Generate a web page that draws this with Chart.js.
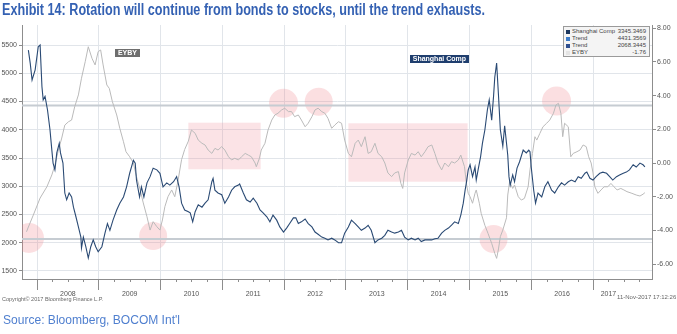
<!DOCTYPE html>
<html>
<head>
<meta charset="utf-8">
<script src="https://cdn.jsdelivr.net/npm/chart.js@4.4.1/dist/chart.umd.min.js"></script>
<style>
    html, body { margin: 0; padding: 0; background: #fff; }
    #wrap { position: relative; width: 677px; height: 334px; overflow: hidden; }
    #chart { position: absolute; left: 0; top: 0; }
    .title {
        position: absolute; left: 2px; top: 1px; line-height: 16px;
        font: bold 16px 'Liberation Sans', Arial, sans-serif; color: #3461b3;
        white-space: nowrap; transform-origin: 0 0;
    }
    .source {
        position: absolute; left: 3px; top: 313px; line-height: 13px;
        font: 12.5px 'Liberation Sans', Arial, sans-serif; color: #4f7fcf;
        white-space: nowrap; transform-origin: 0 0;
    }
    .copy, .stamp {
        position: absolute; white-space: nowrap; color: #666;
        font-family: 'Liberation Sans Narrow', 'Liberation Sans', sans-serif;
    }
    .copy { left: 2px; top: 296px; font-size: 5.5px; }
    .stamp { left: 617px; top: 294px; font-size: 6px; }
    .legend {
        position: absolute; left: 563px; top: 26px; width: 87px; height: 31px;
        box-sizing: border-box; border: 1px solid #9a9a9a; background: #f4f4f4;
        padding: 1px 3px 0 2px; color: #444; white-space: nowrap;
        font: 6px 'Liberation Sans Narrow', 'Liberation Sans', sans-serif;
    }
    .legend .row { display: flex; align-items: center; height: 7.1px; line-height: 7px; white-space: nowrap; }
    .legend i { display: inline-block; flex: none; width: 4px; height: 4px; margin-right: 2px; }
    .legend .val { margin-left: auto; padding-left: 2px; }
</style>
</head>
<body>
<div id="wrap">
    <canvas id="chart" width="677" height="334"></canvas>
    <div class="title" id="title">Exhibit 14: Rotation will continue from bonds to stocks, until the trend exhausts.</div>
    <div class="legend">
        <div class="row"><i style="background:#1b365d"></i><span>Shanghai Comp</span><span class="val">3345.3469</span></div>
        <div class="row"><i style="background:#3d7cc9"></i><span>Trend</span><span class="val">4431.3569</span></div>
        <div class="row"><i style="background:#2f4f8f"></i><span>Trend</span><span class="val">2068.3445</span></div>
        <div class="row"><i style="background:#e4e4e4"></i><span>EYBY</span><span class="val">-1.76</span></div>
    </div>
    <div class="copy">Copyright© 2017 Bloomberg Finance L.P.</div>
    <div class="stamp">11-Nov-2017 17:12:26</div>
    <div class="source" id="source">Source: Bloomberg, BOCOM Int'l</div>
</div>
<script>
// Shanghai Composite, left axis (decimal year, index level)
const shDates = [
    2007.86, 2007.89, 2007.92, 2007.97, 2008.02, 2008.05, 2008.08, 2008.10, 2008.13, 2008.17,
    2008.21, 2008.24, 2008.26, 2008.29, 2008.32, 2008.36, 2008.38, 2008.42, 2008.45, 2008.48,
    2008.52, 2008.56, 2008.59, 2008.63, 2008.67, 2008.71, 2008.72, 2008.75, 2008.79, 2008.83,
    2008.87, 2008.91, 2008.95, 2008.99, 2009.05, 2009.10, 2009.14, 2009.18, 2009.23, 2009.29,
    2009.34, 2009.40, 2009.45, 2009.50, 2009.56, 2009.59, 2009.61, 2009.66, 2009.69, 2009.73,
    2009.78, 2009.83, 2009.88, 2009.94, 2009.99, 2010.04, 2010.10, 2010.15, 2010.21, 2010.26,
    2010.30, 2010.34, 2010.39, 2010.45, 2010.48, 2010.52, 2010.56, 2010.61, 2010.67, 2010.72,
    2010.77, 2010.83, 2010.85, 2010.88, 2010.93, 2010.99, 2011.04, 2011.10, 2011.15, 2011.20,
    2011.26, 2011.28, 2011.34, 2011.39, 2011.45, 2011.50, 2011.56, 2011.61, 2011.66, 2011.72,
    2011.77, 2011.82, 2011.88, 2011.93, 2011.99, 2012.04, 2012.09, 2012.15, 2012.19, 2012.23,
    2012.28, 2012.34, 2012.39, 2012.45, 2012.50, 2012.55, 2012.61, 2012.66, 2012.71, 2012.77,
    2012.82, 2012.88, 2012.93, 2012.98, 2013.04, 2013.09, 2013.15, 2013.20, 2013.25, 2013.31,
    2013.36, 2013.41, 2013.47, 2013.52, 2013.58, 2013.63, 2013.68, 2013.74, 2013.79, 2013.85,
    2013.90, 2013.95, 2014.01, 2014.06, 2014.12, 2014.17, 2014.22, 2014.28, 2014.33, 2014.39,
    2014.44, 2014.49, 2014.55, 2014.60, 2014.66, 2014.71, 2014.76, 2014.82, 2014.86, 2014.90,
    2014.93, 2014.95, 2014.98, 2015.01, 2015.05, 2015.09, 2015.11, 2015.14, 2015.18, 2015.21,
    2015.25, 2015.29, 2015.32, 2015.36, 2015.39, 2015.41, 2015.44, 2015.47, 2015.50, 2015.54,
    2015.57, 2015.60, 2015.62, 2015.64, 2015.66, 2015.70, 2015.73, 2015.77, 2015.81, 2015.87,
    2015.92, 2015.96, 2015.98, 2016.00, 2016.04, 2016.07, 2016.11, 2016.17, 2016.22, 2016.27,
    2016.33, 2016.38, 2016.44, 2016.49, 2016.54, 2016.60, 2016.65, 2016.71, 2016.76, 2016.81,
    2016.87, 2016.90, 2016.95, 2017.00, 2017.05, 2017.11, 2017.16, 2017.22, 2017.27, 2017.32,
    2017.38, 2017.43, 2017.49, 2017.54, 2017.59, 2017.65, 2017.70, 2017.76, 2017.81, 2017.84,
];
const shValues = [
    5410, 5180, 4880, 5060, 5470, 5500, 4760, 4530, 4590, 4350,
    4000, 3640, 3410, 3290, 3590, 3760, 3590, 3410, 2880, 2760,
    2880, 2810, 2630, 2460, 2280, 2100, 1910, 2100, 1930, 1730,
    1930, 2050, 1930, 1840, 1930, 2170, 2340, 2220, 2400, 2580,
    2700, 2810, 2990, 3230, 3460, 3410, 3110, 2810, 2990, 2810,
    3060, 3170, 3320, 3290, 3230, 2990, 3060, 3020, 3080, 3170,
    2990, 2700, 2580, 2550, 2530, 2370, 2550, 2670, 2630, 2700,
    2760, 3080, 3140, 2930, 2880, 2850, 2700, 2810, 2930, 2990,
    3020, 3040, 2880, 2760, 2720, 2790, 2700, 2580, 2530, 2460,
    2370, 2490, 2400, 2280, 2190, 2260, 2340, 2440, 2440, 2340,
    2370, 2420, 2340, 2280, 2190, 2150, 2100, 2080, 2050, 2080,
    2050, 2000, 2000, 2170, 2280, 2400, 2340, 2280, 2220, 2260,
    2310, 2220, 2000, 2050, 2080, 2130, 2220, 2190, 2170, 2190,
    2220, 2100, 2050, 2080, 2050, 2080, 2020, 2050, 2050, 2050,
    2070, 2080, 2170, 2220, 2260, 2310, 2370, 2340, 2490, 2700,
    2930, 3060, 3290, 3380, 3170, 3340, 3110, 3290, 3520, 3760,
    4000, 4350, 4530, 4170, 4590, 4930, 5180, 4610, 4000, 3710,
    4070, 3760, 3550, 3170, 3020, 3200, 3080, 3320, 3430, 3640,
    3590, 3640, 3610, 3340, 2930, 2700, 2880, 2810, 2990, 3080,
    2930, 2880, 2990, 3060, 3020, 3080, 3110, 3080, 3170, 3140,
    3230, 3250, 3140, 3110, 3170, 3230, 3250, 3230, 3170, 3110,
    3170, 3200, 3230, 3250, 3290, 3380, 3340, 3410, 3380, 3345,
];

// Earnings yield minus bond yield, right axis (decimal year, %)
const eybyDates = [
    2007.83, 2007.86, 2007.94, 2008.05, 2008.16, 2008.24, 2008.29, 2008.34, 2008.40, 2008.45,
    2008.51, 2008.56, 2008.61, 2008.67, 2008.72, 2008.78, 2008.83, 2008.89, 2008.94, 2008.99,
    2009.03, 2009.07, 2009.13, 2009.17, 2009.22, 2009.29, 2009.34, 2009.40, 2009.44, 2009.50,
    2009.56, 2009.61, 2009.67, 2009.72, 2009.78, 2009.83, 2009.88, 2009.94, 2009.99, 2010.03,
    2010.07, 2010.12, 2010.18, 2010.23, 2010.28, 2010.34, 2010.39, 2010.45, 2010.50, 2010.56,
    2010.61, 2010.67, 2010.72, 2010.77, 2010.83, 2010.88, 2010.93, 2010.99, 2011.04, 2011.10,
    2011.15, 2011.20, 2011.26, 2011.31, 2011.37, 2011.42, 2011.47, 2011.53, 2011.55, 2011.60,
    2011.63, 2011.69, 2011.74, 2011.80, 2011.85, 2011.90, 2011.96, 2012.01, 2012.07, 2012.12,
    2012.17, 2012.23, 2012.28, 2012.34, 2012.39, 2012.45, 2012.50, 2012.55, 2012.61, 2012.66,
    2012.71, 2012.77, 2012.82, 2012.88, 2012.93, 2012.98, 2013.04, 2013.09, 2013.15, 2013.20,
    2013.25, 2013.31, 2013.36, 2013.41, 2013.47, 2013.52, 2013.58, 2013.63, 2013.68, 2013.74,
    2013.79, 2013.85, 2013.89, 2013.92, 2013.95, 2014.01, 2014.06, 2014.12, 2014.17, 2014.22,
    2014.28, 2014.33, 2014.39, 2014.44, 2014.49, 2014.55, 2014.60, 2014.66, 2014.71, 2014.76,
    2014.82, 2014.86, 2014.92, 2014.95, 2014.98, 2015.01, 2015.05, 2015.09, 2015.11, 2015.16,
    2015.19, 2015.25, 2015.30, 2015.36, 2015.41, 2015.44, 2015.47, 2015.50, 2015.54, 2015.60,
    2015.62, 2015.65, 2015.70, 2015.73, 2015.79, 2015.84, 2015.89, 2015.95, 2015.98, 2016.02,
    2016.06, 2016.09, 2016.14, 2016.19, 2016.25, 2016.30, 2016.36, 2016.40, 2016.44, 2016.48,
    2016.51, 2016.54, 2016.60, 2016.64, 2016.68, 2016.74, 2016.79, 2016.84, 2016.89, 2016.93,
    2016.97, 2017.00, 2017.03, 2017.08, 2017.13, 2017.18, 2017.24, 2017.29, 2017.34, 2017.39,
    2017.45, 2017.50, 2017.55, 2017.63, 2017.70, 2017.76, 2017.81, 2017.84,
];
const eybyValues = [
    -4.08, -3.80, -3.09, -2.08, -1.41, -0.71, -0.12, 0.67, 1.48, 2.25,
    2.45, 2.55, 3.34, 4.04, 5.03, 6.01, 6.90, 6.21, 5.82, 6.61,
    6.71, 5.82, 4.63, 4.43, 3.64, 2.85, 2.06, 1.26, 0.67, 0.37,
    0.00, -0.81, -1.60, -2.37, -3.19, -3.98, -3.48, -3.78, -3.98, -3.38,
    -2.59, -2.00, -1.60, -2.00, -1.10, 0.20, 0.80, 1.30, 1.96, 1.76,
    1.36, 1.17, 1.07, 0.77, 0.57, 0.87, 0.77, 0.97, 0.77, 0.37,
    0.18, 0.28, 0.18, 0.37, 0.57, 0.47, 0.37, 0.00, -0.22, 0.28,
    0.77, 1.17, 1.96, 2.55, 2.85, 2.95, 3.15, 3.25, 3.05, 3.05,
    2.75, 2.85, 2.55, 2.15, 2.36, 2.75, 3.15, 3.25, 3.05, 2.95,
    2.65, 2.06, 2.25, 2.45, 2.36, 1.36, 0.57, 0.37, 1.17, 1.36,
    0.97, 1.56, 0.57, 0.67, 1.17, 0.57, 0.37, 0.00, -0.59, -0.81,
    -0.59, -0.51, -1.21, -1.51, -0.59, 0.18, 0.57, 0.47, 0.67, 0.37,
    0.67, 0.97, 1.07, 0.57, 0.00, -0.41, 0.00, -0.22, 0.08, 0.00,
    0.18, 0.47, -0.22, -1.21, -1.80, -2.00, -2.39, -1.80, -1.60, -2.39,
    -2.99, -3.70, -4.17, -4.77, -5.36, -5.66, -5.10, -4.37, -3.98, -3.25,
    -1.90, -1.11, -1.51, -1.30, -2.00, -2.20, -2.10, -1.41, -0.41, 0.57,
    1.56, 1.36, 1.76, 2.15, 2.36, 2.55, 2.95, 3.44, 3.54, 2.95,
    1.56, 2.36, 2.15, 0.37, 0.57, 0.67, 0.77, 1.07, 0.97, 0.37,
    0.00, -0.59, -1.41, -1.80, -1.60, -1.41, -1.41, -1.21, -1.41, -1.60,
    -1.51, -1.60, -1.70, -1.80, -1.90, -1.96, -1.85, -1.76,
];

// Horizontal trend levels on the index axis
const trendHigh = 4431.3569;
const trendLow = 2068.3445;

// Axis ticks
const yearTicks = [2008, 2009, 2010, 2011, 2012, 2013, 2014, 2015, 2016, 2017];
const leftTicks = [1500, 2000, 2500, 3000, 3500, 4000, 4500, 5000, 5500];
const rightTicks = [-6, -4, -2, 0, 2, 4, 6, 8];

const xMin = 2007.757;
const xMax = 2017.955;

// Highlights, in (year, index level) coordinates
const highlightRects = [
    { x0: 2010.45, x1: 2011.62, y0: 3300, y1: 4125 },
    { x0: 2013.04, x1: 2014.97, y0: 3080, y1: 4114 },
];
const highlightCircles = [
    { x: 2007.87, y: 2084, r: 15 },
    { x: 2009.88, y: 2119, r: 14 },
    { x: 2011.99, y: 4468, r: 14.5 },
    { x: 2012.56, y: 4496, r: 14 },
    { x: 2015.39, y: 2066, r: 14 },
    { x: 2016.41, y: 4508, r: 14.5 },
];
const seriesTags = [
    { text: 'EYBY', x: 2009.464, y: 5364, bg: '#6e6e6e' },
    { text: 'Shanghai Comp', x: 2014.513, y: 5252, bg: '#1f3e6e' },
];

const tickFont = { family: "'Liberation Sans Narrow', 'Liberation Sans', sans-serif", size: 7 };
const axisGrey = '#8d8d8d';
const gridGrey = '#e1e5ea';

function toPoints(xs, ys) {
    return xs.map((x, i) => ({ x, y: ys[i] }));
}

function flat(level) {
    return [{ x: xMin, y: level }, { x: xMax, y: level }];
}

const highlights = {
    id: 'highlights',
    beforeDatasetsDraw(chart) {
        const { ctx, chartArea, scales: { x, y } } = chart;
        ctx.save();
        ctx.beginPath();
        ctx.rect(chartArea.left, chartArea.top, chartArea.right - chartArea.left, chartArea.bottom - chartArea.top);
        ctx.clip();
        ctx.fillStyle = 'rgba(238, 140, 150, 0.24)';
        highlightRects.forEach((r) => {
            const px0 = x.getPixelForValue(r.x0);
            const px1 = x.getPixelForValue(r.x1);
            const py1 = y.getPixelForValue(r.y1);
            const py0 = y.getPixelForValue(r.y0);
            ctx.fillRect(px0, py1, px1 - px0, py0 - py1);
        });
        ctx.fillStyle = 'rgba(238, 130, 140, 0.26)';
        highlightCircles.forEach((c) => {
            ctx.beginPath();
            ctx.arc(x.getPixelForValue(c.x), y.getPixelForValue(c.y), c.r, 0, Math.PI * 2);
            ctx.fill();
        });
        ctx.restore();
    },
    afterDatasetsDraw(chart) {
        const { ctx, scales: { x, y } } = chart;
        ctx.save();
        ctx.font = "bold 7px 'Liberation Sans', sans-serif";
        ctx.textAlign = 'center';
        ctx.textBaseline = 'middle';
        seriesTags.forEach((t) => {
            const cx = x.getPixelForValue(t.x);
            const cy = y.getPixelForValue(t.y);
            const w = ctx.measureText(t.text).width + 6;
            ctx.fillStyle = t.bg;
            ctx.fillRect(Math.round(cx - w / 2), Math.round(cy - 4), Math.round(w), 8);
            ctx.fillStyle = '#ffffff';
            ctx.fillText(t.text, cx, cy + 0.5);
        });
        ctx.restore();
    },
    afterDraw(chart) {
        // short quarter ticks under the date axis
        const { ctx, chartArea, scales: { x } } = chart;
        ctx.save();
        ctx.strokeStyle = axisGrey;
        ctx.lineWidth = 1;
        x.ticks.forEach((t) => {
            if (t.value % 1 === 0) return;
            const px = Math.round(x.getPixelForValue(t.value)) + 0.5;
            ctx.beginPath();
            ctx.moveTo(px, chartArea.bottom);
            ctx.lineTo(px, chartArea.bottom + 3);
            ctx.stroke();
        });
        ctx.restore();
    },
};

new Chart(document.getElementById('chart'), {
    type: 'line',
    data: {
        datasets: [
            {
                label: 'Shanghai Comp',
                data: toPoints(shDates, shValues),
                yAxisID: 'y',
                borderColor: '#2a4a74',
                borderWidth: 1.1,
                order: 1,
            },
            {
                label: 'EYBY',
                data: toPoints(eybyDates, eybyValues),
                yAxisID: 'y1',
                borderColor: '#bababa',
                borderWidth: 1,
                order: 2,
            },
            {
                label: 'Trend',
                data: flat(trendHigh),
                yAxisID: 'y',
                borderColor: '#c6ccd2',
                borderWidth: 2,
                order: 3,
            },
            {
                label: 'Trend',
                data: flat(trendLow),
                yAxisID: 'y',
                borderColor: '#c6ccd2',
                borderWidth: 2,
                order: 3,
            },
        ],
    },
    options: {
        responsive: false,
        animation: false,
        devicePixelRatio: 1,
        layout: { padding: { top: 25, bottom: 35, left: 0, right: 0 } },
        elements: {
            point: { radius: 0 },
            line: { tension: 0 },
        },
        plugins: {
            legend: { display: false },
            tooltip: { enabled: false },
        },
        scales: {
            x: {
                type: 'linear',
                min: xMin,
                max: xMax,
                afterBuildTicks: (scale) => {
                    const ticks = [];
                    yearTicks.forEach((yr) => {
                        [0, 0.25, 0.5, 0.75].forEach((q) => ticks.push({ value: yr + q }));
                    });
                    scale.ticks = ticks;
                },
                afterFit: (scale) => { scale.height = 20; },
                border: { color: axisGrey },
                grid: {
                    color: (ctx) => (ctx.tick && ctx.tick.value % 1 === 0 ? gridGrey : 'rgba(0,0,0,0)'),
                    tickColor: (ctx) => (ctx.tick && ctx.tick.value % 1 === 0 ? axisGrey : 'rgba(0,0,0,0)'),
                    tickLength: 11,
                },
                ticks: {
                    autoSkip: false,
                    maxRotation: 0,
                    padding: 0,
                    font: tickFont,
                    color: '#555',
                    callback: (value) => {
                        const yr = Math.floor(value);
                        const frac = Math.round((value - yr) * 100);
                        const last = yearTicks[yearTicks.length - 1];
                        if (yr === last) return frac === 25 ? String(yr) : '';
                        return frac === 50 ? String(yr) : '';
                    },
                },
            },
            y: {
                position: 'left',
                min: 1358.4,
                max: 5854,
                afterBuildTicks: (scale) => { scale.ticks = leftTicks.map((v) => ({ value: v })); },
                afterFit: (scale) => { scale.width = 22; },
                border: { color: axisGrey },
                grid: { color: gridGrey, tickColor: axisGrey, tickLength: 3 },
                ticks: { font: tickFont, color: '#555', padding: 2, callback: (value) => String(value) },
            },
            y1: {
                position: 'right',
                min: -6.884,
                max: 8.19,
                afterBuildTicks: (scale) => { scale.ticks = rightTicks.map((v) => ({ value: v })); },
                afterFit: (scale) => { scale.width = 25; },
                border: { color: axisGrey },
                grid: { drawOnChartArea: false, tickColor: axisGrey, tickLength: 4 },
                ticks: {
                    font: tickFont,
                    color: '#555',
                    padding: 1,
                    callback: (value) => value.toFixed(2),
                },
            },
        },
    },
    plugins: [highlights],
});

// squeeze the heading and footnote to their set widths
function fitWidth(id, width) {
    const el = document.getElementById(id);
    const w = el.getBoundingClientRect().width;
    if (w > 0) el.style.transform = `scaleX(${width / w})`;
}
fitWidth('title', 483);
fitWidth('source', 177);
</script>
</body>
</html>
